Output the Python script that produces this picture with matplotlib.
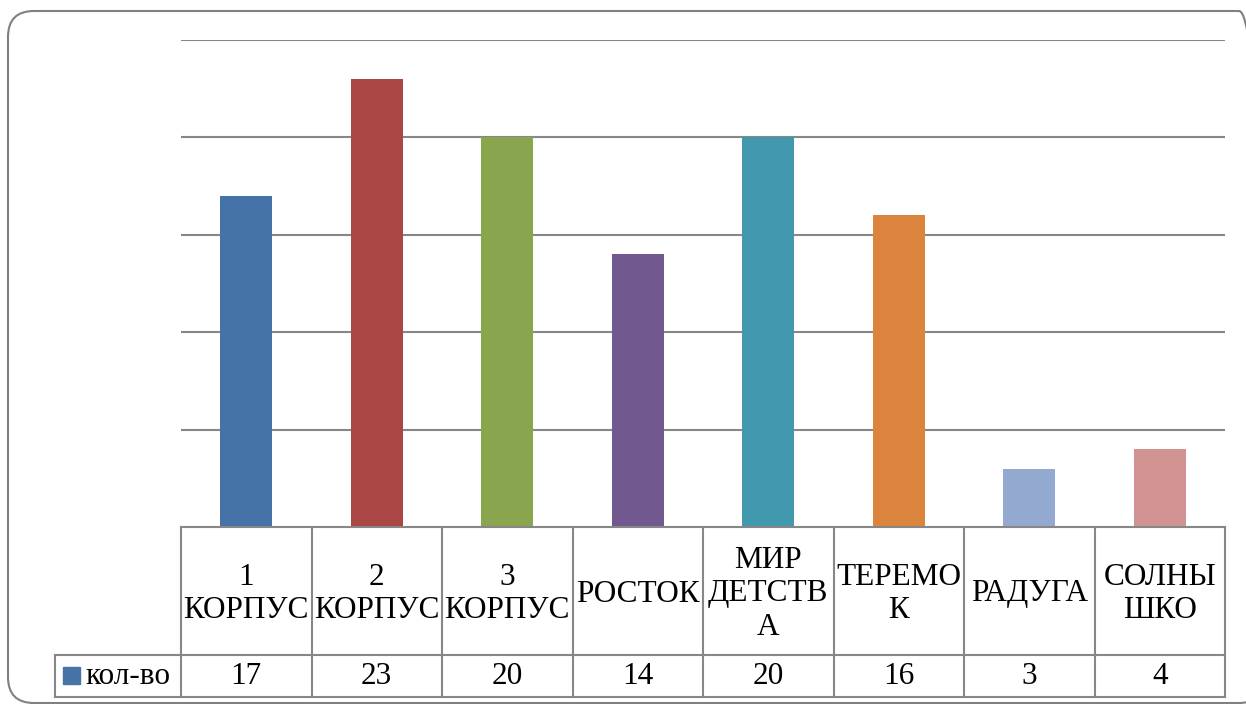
import matplotlib.pyplot as plt
from matplotlib.patches import FancyBboxPatch, Rectangle
from matplotlib.lines import Line2D
from matplotlib.transforms import blended_transform_factory, IdentityTransform

# data
categories = ["1\nКОРПУС", "2\nКОРПУС", "3\nКОРПУС", "РОСТОК",
              "МИР\nДЕТСТВ\nА", "ТЕРЕМО\nК", "РАДУГА", "СОЛНЫ\nШКО"]
values = [17, 23, 20, 14, 20, 16, 3, 4]
series_name = "кол-во"
colors = ["#4572A7", "#AA4643", "#89A54E", "#71588F",
          "#4198AF", "#DB843D", "#93A9CF", "#D19392"]

W, H = 1246, 704
plt.rcParams['font.family'] = ['Liberation Serif', 'DejaVu Serif']
FS = 22.5
GRID = "#878787"

fig = plt.figure(figsize=(W / 100, H / 100), dpi=100)

def fx(x):
    return x / W

def fy(y):
    return 1 - y / H

# rounded frame in pixel units (right side runs off the picture)
frame = FancyBboxPatch((8, H - 703), 1265 - 8, 703 - 11,
                       boxstyle="round,pad=0,rounding_size=26",
                       transform=IdentityTransform(), fill=False,
                       edgecolor="#808080", linewidth=1.5)
fig.patches.append(frame)

# plot area
left, right, top, bottom = 181, 1225, 40, 527
ax = fig.add_axes([fx(left), fy(bottom), fx(right) - fx(left), fy(top) - fy(bottom)])
n = len(values)
x = list(range(n))
ax.bar(x, values, width=0.4, color=colors, zorder=3)
ax.set_xlim(-0.5, n - 0.5)
ax.set_ylim(0, 25)
ax.set_yticks([5, 10, 15, 20, 25])
ax.yaxis.grid(True, color=GRID, linewidth=1.5, zorder=0)
ax.set_xticks([])
ax.tick_params(left=False, labelleft=False)
for s in ax.spines.values():
    s.set_visible(False)

# data table below the axes
axh = bottom - top
row1 = -(655 - bottom) / axh
row2 = -(697 - bottom) / axh
tr = blended_transform_factory(ax.transData, ax.transAxes)

def tline(xs, ys):
    ax.add_line(Line2D(xs, ys, transform=tr, color=GRID, linewidth=1.5,
                       clip_on=False, zorder=4))

tline([-0.5, n - 0.5], [0, 0])
for i in range(n + 1):
    tline([i - 0.5, i - 0.5], [0, row2])

# bottom row spans into the legend cell
tr_fig = fig.transFigure
def fline(xs, ys):
    fig.add_artist(Line2D([fx(v) for v in xs], [fy(v) for v in ys],
                          transform=tr_fig, color=GRID, linewidth=1.5))

fline([55, right], [655, 655])
fline([55, right], [697, 697])
fline([55, 55], [655, 697])

label_y = -(594 - bottom) / axh
for i, (cat, val) in enumerate(zip(categories, values)):
    ax.text(i, label_y, cat, transform=tr, ha="center", va="center",
            fontsize=FS, linespacing=1.2, clip_on=False)
    ax.text(i, (row1 + row2) / 2, str(val), transform=tr, ha="center",
            va="center", fontsize=FS, clip_on=False)

# legend key
fig.patches.append(Rectangle((fx(63), fy(684)), fx(17), fy(667) - fy(684),
                             transform=fig.transFigure, color=colors[0]))
fig.text(fx(85), fy(677), series_name, ha="left", va="center", fontsize=FS)

fig.savefig("out.png", dpi=100)
